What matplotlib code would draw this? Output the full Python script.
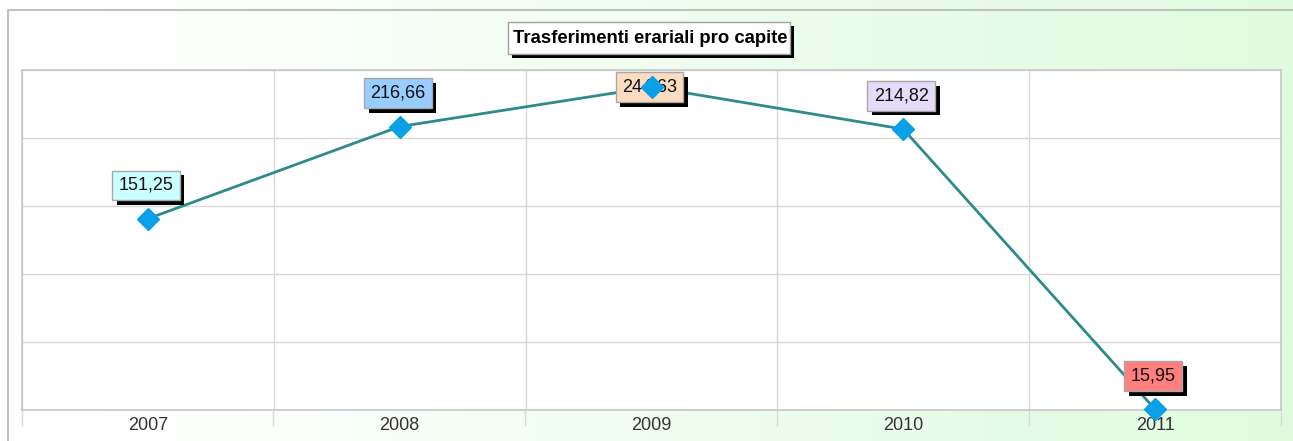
import matplotlib
matplotlib.use("Agg")
import matplotlib.pyplot as plt
import numpy as np
from matplotlib.colors import LinearSegmentedColormap
from matplotlib.patches import Rectangle
from matplotlib.patheffects import SimplePatchShadow, Normal

plt.rcParams['font.family'] = ['Liberation Sans', 'DejaVu Sans']

years = ["2007", "2008", "2009", "2010", "2011"]
values = [151.25, 216.66, 244.63, 214.82, 15.95]
labels = ["151,25", "216,66", "244,63", "214,82", "15,95"]
label_colors = ["#ccffff", "#99ccff", "#fcdcc0", "#e4dcfa", "#ff7f7f"]
title = "Trasferimenti erariali pro capite"

W, H = 1293, 441
fig = plt.figure(figsize=(W / 100, H / 100), dpi=100)

# background gradient
bg = fig.add_axes([0, 0, 1, 1], zorder=-10)
cmap = LinearSegmentedColormap.from_list("g", [(0, "#ffffff"), (0.08, "#ffffff"),
                                                (0.5, "#f0fdf0"), (1, "#dffbdf")], N=256)
grad = np.linspace(0, 1, 512).reshape(1, -1)
bg.imshow(grad, aspect="auto", cmap=cmap, extent=[0, W, 0, H])
bg.set_xlim(0, W)
bg.set_ylim(H, 0)
bg.axis("off")
# outer frame
bg.plot([8, 8, 1300], [H + 5, 10, 10], color="#c0c0c0", lw=1.5)
# vertical gridline extensions below the plot
for xx in [22, 273, 525, 777, 1029, 1281]:
    bg.plot([xx, xx], [410, 425], color="#d8d8d8", lw=1)

# title box with shadow
bg.add_patch(Rectangle((512, 26), 282, 32, facecolor="black", edgecolor="none"))
bg.add_patch(Rectangle((508, 22), 282, 32, facecolor="white", edgecolor="#a0a0a0", lw=1))
bg.text(650, 38.5, title, ha="center", va="center", fontsize=13.3, fontweight="bold",
        color="black")

ax = fig.add_axes([22 / W, 31 / H, 1259 / W, 340 / H])
ax.set_facecolor("white")
x = np.arange(len(years))
ymin = 15.95
ymax = 15.95 + 340 / 1.4117
ax.set_xlim(-0.5, len(years) - 0.5)
ax.set_ylim(ymin - 0.5, ymax)
ax.set_yticks(np.linspace(ymin - 0.5, ymax, 6))
ax.set_xticks(np.arange(len(years) + 1) - 0.5, minor=False)
ax.set_xticklabels([])
ax.tick_params(axis="both", length=0, labelleft=False)
ax.grid(True, color="#d8d8d8", lw=1)
for s in ax.spines.values():
    s.set_color("#c8c8c8")
    s.set_linewidth(1.2)
for i, yr in enumerate(years):
    ax.annotate(yr, (i, 0), xycoords=("data", "axes fraction"), xytext=(0, -11),
                textcoords="offset points", ha="center", va="center",
                fontsize=13, color="#333333")

ax.plot(x, values, color="#2e8b8b", lw=2, zorder=3, clip_on=False)
ax.plot(x, values, linestyle="none", marker="D", markersize=11, color="#0aa0e8",
        zorder=5, clip_on=False)

for i, (v, lab, c) in enumerate(zip(values, labels, label_colors)):
    dy = 0 if i == 2 else 24
    t = ax.annotate(lab, (i, v), xytext=(-1.5, dy), textcoords="offset points",
                    ha="center", va="center", fontsize=13, color="#111111", zorder=4,
                    bbox=dict(boxstyle="square,pad=0.35", facecolor=c, edgecolor="#a8a8a8", lw=1))
    t.get_bbox_patch().set_path_effects([
        SimplePatchShadow(offset=(3.5, -3.5), shadow_rgbFace="black", alpha=1.0), Normal()])

fig.savefig("out.png", dpi=100)
